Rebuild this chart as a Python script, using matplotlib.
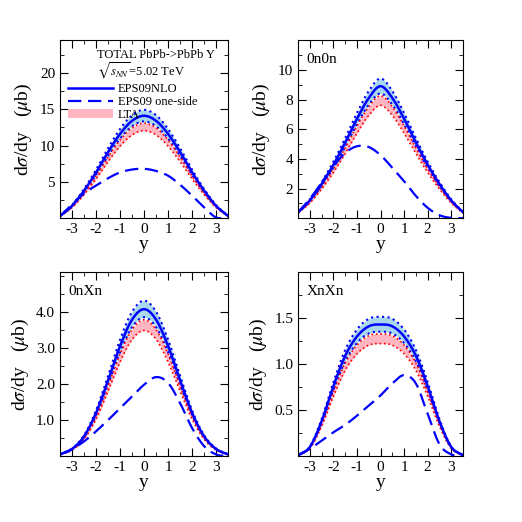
import numpy as np
import matplotlib
matplotlib.use("Agg")
import matplotlib.pyplot as plt

plt.rcParams['font.family'] = ['Liberation Serif', 'DejaVu Serif']
plt.rcParams['mathtext.fontset'] = 'stix'
plt.rcParams['axes.unicode_minus'] = False

rap = [-3.5, -3.0, -2.5, -2.0, -1.5, -1.0, -0.5, 0.0, 0.5, 1.0, 1.5, 2.0, 2.5, 3.0, 3.5]

# central EPS09NLO curves
total_c = [0.3, 1.7, 3.8, 6.3, 9.1, 11.6, 13.4, 14.1, 13.4, 11.6, 9.1, 6.3, 3.8, 1.7, 0.3]
n0n0_c = [0.4, 1.2, 2.3, 3.6, 5.1, 6.7, 8.1, 8.9, 8.1, 6.7, 5.1, 3.6, 2.3, 1.2, 0.4]
n0nX_c = [0.05, 0.2, 0.55, 1.2, 2.1, 3.05, 3.78, 4.07, 3.78, 3.05, 2.1, 1.2, 0.55, 0.2, 0.05]
nXnX_c = [0.01, 0.1, 0.38, 0.76, 1.09, 1.3, 1.41, 1.43, 1.41, 1.3, 1.09, 0.76, 0.38, 0.1, 0.01]

# EPS09 one-side
total_os = [0.3, 1.9, 3.4, 4.5, 5.5, 6.3, 6.7, 6.8, 6.5, 5.85, 4.6, 3.1, 1.5, 0.1, 0.0]
n0n0_os = [0.4, 1.3, 2.4, 3.5, 4.4, 4.85, 4.8, 4.25, 3.4, 2.5, 1.5, 0.7, 0.2, 0.02, 0.0]
n0nX_os = [0.05, 0.2, 0.41, 0.69, 1.0, 1.33, 1.65, 1.98, 2.19, 2.03, 1.47, 0.78, 0.28, 0.05, 0.0]
nXnX_os = [0.01, 0.08, 0.17, 0.26, 0.34, 0.44, 0.55, 0.66, 0.79, 0.88, 0.79, 0.46, 0.13, 0.02, 0.0]

# band edges relative to central curve
eps_hi, eps_lo = 1.058, 0.945
lta_hi, lta_lo = 0.928, 0.855

panels = [
    ("", total_c, total_os, 24.5, [5, 10, 15, 20], ["5", "10", "15", "20"], 2.5),
    ("0n0n", n0n0_c, n0n0_os, 12.0, [2, 4, 6, 8, 10], ["2", "4", "6", "8", "10"], 1.0),
    ("0nXn", n0nX_c, n0nX_os, 5.1, [1, 2, 3, 4], ["1.0", "2.0", "3.0", "4.0"], 0.5),
    ("XnXn", nXnX_c, nXnX_os, 2.0, [0.5, 1.0, 1.5], ["0.5", "1.0", "1.5"], 0.25),
]


def smooth(x, y, n=300):
    # Catmull-Rom through the read points
    x = np.asarray(x, float); y = np.asarray(y, float)
    xs = np.linspace(x[0], x[-1], n)
    yp = np.concatenate([[2 * y[0] - y[1]], y, [2 * y[-1] - y[-2]]])
    out = []
    for v in xs:
        i = min(int((v - x[0]) / (x[1] - x[0])), len(x) - 2)
        t = (v - x[i]) / (x[1] - x[0])
        p0, p1, p2, p3 = yp[i], yp[i + 1], yp[i + 2], yp[i + 3]
        out.append(0.5 * (2 * p1 + (-p0 + p2) * t + (2 * p0 - 5 * p1 + 4 * p2 - p3) * t ** 2
                          + (-p0 + 3 * p1 - 3 * p2 + p3) * t ** 3))
    return xs, np.array(out)


fig = plt.figure(figsize=(5.22, 5.22), dpi=100)
boxes = [[0.115, 0.582, 0.322, 0.341], [0.571, 0.582, 0.316, 0.341],
         [0.115, 0.126, 0.322, 0.353], [0.571, 0.126, 0.316, 0.353]]

for k, (name, cen, one, ytop, yt, ytl, ymin) in enumerate(panels):
    ax = fig.add_axes(boxes[k])
    xs, c = smooth(rap, cen)
    _, o = smooth(rap, one)
    o = np.clip(o, 0, None)
    ax.fill_between(xs, c * eps_lo, c * eps_hi, color='#a8d8ea', lw=0)
    ax.fill_between(xs, c * lta_lo, c * lta_hi, color='#ffb6c1', lw=0, label='LTA')
    ax.plot(xs, c * eps_hi, ':', color='blue', lw=1.5)
    ax.plot(xs, c * eps_lo, ':', color='blue', lw=1.5)
    ax.plot(xs, c * lta_hi, ':', color='red', lw=1.2)
    ax.plot(xs, c * lta_lo, ':', color='red', lw=1.2)
    ax.plot(xs, c, '-', color='blue', lw=1.8, label='EPS09NLO')
    ax.plot(xs, o, '--', color='blue', lw=1.6, dashes=(6, 3), label='EPS09 one-side')
    ax.set_xlim(-3.5, 3.5)
    ax.set_ylim(0, ytop)
    ax.set_xticks([-3, -2, -1, 0, 1, 2, 3])
    ax.set_xticks(np.arange(-3.5, 3.6, 0.5), minor=True)
    ax.set_yticks(yt)
    ax.set_yticklabels(ytl)
    ax.set_yticks(np.arange(0, ytop, ymin), minor=True)
    ax.tick_params(which='both', direction='in', top=True, right=True, labelsize=11)
    ax.tick_params(which='major', length=6)
    ax.tick_params(which='minor', length=3)
    ax.set_xlabel('y', fontsize=14, labelpad=0)
    ax.set_ylabel(r'd$\sigma$/dy   ($\mu$b)', fontsize=14)
    if name:
        ax.text(0.05, 0.93, name, transform=ax.transAxes, fontsize=11, va='top')
    else:
        ax.text(0.22, 0.915, 'TOTAL PbPb->PbPb Υ', transform=ax.transAxes, fontsize=9, va='center')
        ax.text(0.22, 0.83, r'$\sqrt{s_{NN}}$=5.02 TeV', transform=ax.transAxes, fontsize=9, va='center')
        h, l = ax.get_legend_handles_labels()
        order = [l.index('EPS09NLO'), l.index('EPS09 one-side'), l.index('LTA')]
        ax.legend([h[i] for i in order], [l[i] for i in order], loc='upper left',
                  bbox_to_anchor=(0.0, 0.8), frameon=False, fontsize=9,
                  handlelength=3.6, handletextpad=0.4, labelspacing=0.05, borderaxespad=0.2)

fig.savefig('out.png', dpi=100)
